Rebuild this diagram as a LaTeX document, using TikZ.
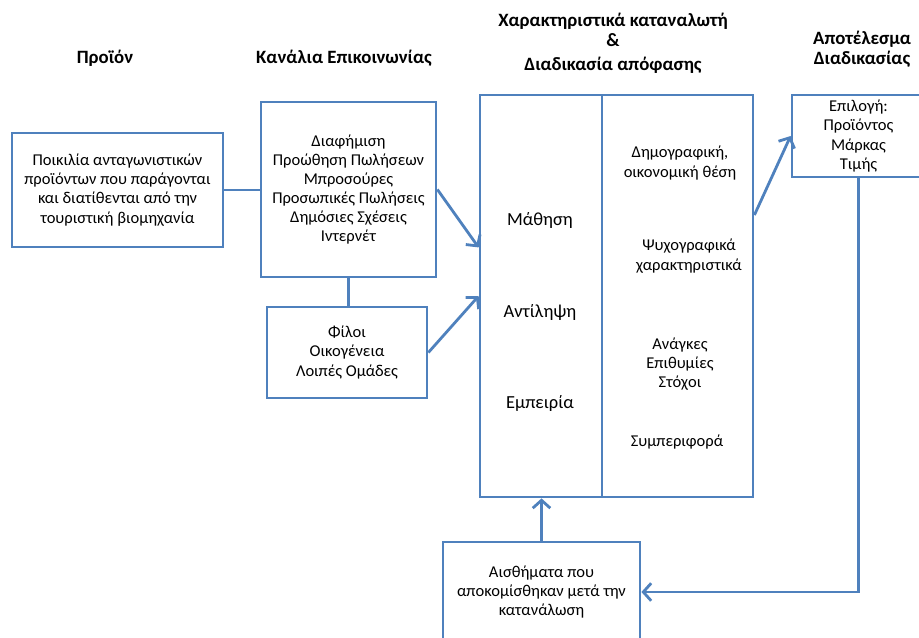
\documentclass[tikz,border=0pt]{standalone}
\usepackage{fontspec}
\setmainfont{Carlito}
\usetikzlibrary{arrows.meta,calc}

\begin{document}
\begin{tikzpicture}[x=0.02cm, y=-0.02cm,
  box/.style = {draw=boxblue, line width=1.6pt, fill=white, align=center, inner sep=2pt, font=\fontsize{9.4}{10.9}\selectfont},
  txt/.style = {align=center, inner sep=0pt, font=\fontsize{9.4}{10.9}\selectfont},
  head/.style = {align=center, inner sep=0pt, font=\fontsize{10.7}{12.6}\selectfont\bfseries},
  big/.style = {inner sep=0pt, font=\fontsize{10.5}{12.6}\selectfont},
  link/.style = {draw=boxblue, line width=1.6pt},
  arr/.style = {link, -{Straight Barb[length=4.5pt,width=10pt]}}]

\definecolor{boxblue}{RGB}{79,129,189}

\useasboundingbox (0,0) rectangle (919,638);

% Headings
\node[head] (hprod) at (105,58) {Προϊόν};
\node[head] (hchan) at (344,58) {Κανάλια Επικοινωνίας};
\node[head] (hcons) at (613,43) {Χαρακτηριστικά καταναλωτή\\[-1pt]\&\\[1pt]Διαδικασία απόφασης};
\node[head] (hres) at (862,49) {Αποτέλεσμα\\[-1pt]Διαδικασίας};

% Boxes
\node[box, minimum width=4.22cm, minimum height=2.28cm] (prod) at (117.5,190)
  {Ποικιλία ανταγωνιστικών\\προϊόντων που παράγονται\\και διατίθενται από την\\τουριστική βιομηχανία};
\node[box, minimum width=3.5cm, minimum height=3.5cm] (chan) at (348.5,189.5)
  {Διαφήμιση\\Προώθηση Πωλήσεων\\Μπροσούρες\\Προσωπικές Πωλήσεις\\Δημόσιες Σχέσεις\\Ιντερνέτ};
\node[box, minimum width=3.2cm, minimum height=1.82cm] (friends) at (347,352.5)
  {Φίλοι\\Οικογένεια\\Λοιπές Ομάδες};
\node[box, minimum width=2.44cm, minimum height=8.04cm] (mainL) at (541,296) {};
\node[box, minimum width=3.02cm, minimum height=8.04cm] (mainR) at (677.5,296) {};
\node[box, minimum width=2.66cm, minimum height=1.64cm] (res) at (858.5,136)
  {Επιλογή:\\Προϊόντος\\Μάρκας\\Τιμής};
\node[box, minimum width=3.94cm, minimum height=2cm] (feel) at (541.5,592)
  {Αισθήματα που\\αποκομίσθηκαν μετά την\\κατανάλωση};

% Texts in the big box
\node[big] (learn) at (540,220) {Μάθηση};
\node[big] (perc) at (540,312) {Αντίληψη};
\node[big] (exp) at (540,403) {Εμπειρία};
\node[txt] (demo) at (680,163) {Δημογραφική,\\οικονομική θέση};
\node[txt] (psych) at (689,256) {Ψυχογραφικά\\χαρακτηριστικά};
\node[txt] (needs) at (680,364) {Ανάγκες\\Επιθυμίες\\Στόχοι};
\node[txt] (behav) at (677,442) {Συμπεριφορά};

% Lines
\draw[link] (prod.east) -- (prod.east -| chan.west);
\draw[link] (chan.south) -- (chan.south |- friends.north);
\draw[arr] (chan.east) -- ($(mainL.north west)!0.38!(mainL.south west)$);
\draw[arr] (friends.east) -- (mainL.west);
\draw[arr] ($(mainR.north east)!0.3!(mainR.south east)$) -- (res.west);
\draw[arr] (feel.north) -- (feel.north |- mainL.south);
\draw[arr] (res.south) |- (feel.east);

\end{tikzpicture}
\end{document}
